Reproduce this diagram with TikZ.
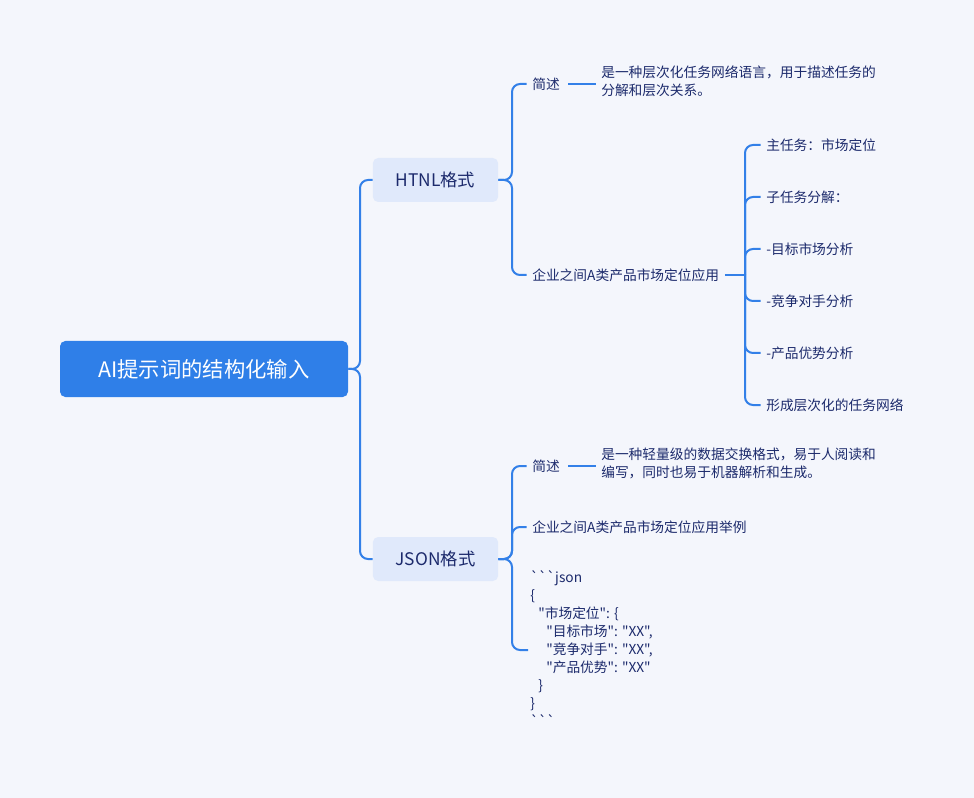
\documentclass[tikz,border=0pt]{standalone}
\usepackage{fontspec}
\setmainfont{Noto Sans CJK SC}
\newfontfamily\codefont{Noto Sans CJK SC}
\usepackage{tikz}

\definecolor{bgcol}{RGB}{244,246,252}
\definecolor{linecol}{RGB}{51,128,232}
\definecolor{rootcol}{RGB}{47,127,232}
\definecolor{subcol}{RGB}{224,233,251}
\definecolor{txtcol}{RGB}{28,42,108}

\tikzset{
  rootbox/.style={fill=rootcol,rounded corners=4pt,minimum width=216pt,minimum height=42pt,text=white,font=\fontsize{16}{18}\selectfont},
  subbox/.style={fill=subcol,rounded corners=4pt,minimum width=94pt,minimum height=33pt,text=txtcol,font=\fontsize{13}{14}\selectfont},
  leaf/.style={anchor=west,inner sep=0pt,text=txtcol,font=\fontsize{10.3}{13.5}\selectfont,align=left},
  conn/.style={draw=linecol,line width=1.5pt,rounded corners=6pt}
}

\begin{document}
\begin{tikzpicture}[x=0.75pt,y=-0.75pt]
\fill[bgcol] (0,0) rectangle (974,798);
\useasboundingbox (0,0) rectangle (974,798);

% Root and format boxes
\node[rootbox] (root) at (204,369) {AI提示词的结构化输入};
\node[subbox] (htnl) at (435.5,180) {HTNL格式};
\node[subbox] (json) at (435.5,559) {JSON格式};

% HTNL leaves
\node[leaf] (hdesc) at (532,84) {简述};
\node[leaf,anchor=north west] (hdesctext) at (601,66) {是一种层次化任务网络语言，用于描述任务的\\分解和层次关系。};
\node[leaf] (happ) at (532,275) {企业之间A类产品市场定位应用};
\node[leaf] (t1) at (766,145) {主任务：市场定位};
\node[leaf] (t2) at (766,197) {子任务分解：};
\node[leaf] (t3) at (766,249) {-目标市场分析};
\node[leaf] (t4) at (766,301) {-竞争对手分析};
\node[leaf] (t5) at (766,353) {-产品优势分析};
\node[leaf] (t6) at (766,405) {形成层次化的任务网络};

% JSON leaves
\node[leaf] (jdesc) at (532,466) {简述};
\node[leaf,anchor=north west] (jdesctext) at (601,448) {是一种轻量级的数据交换格式，易于人阅读和\\编写，同时也易于机器解析和生成。};
\node[leaf] (japp) at (532,527) {企业之间A类产品市场定位应用举例};
\node[leaf,anchor=north west,font=\codefont\fontsize{10.3}{13.5}\selectfont] (jcode) at (530,570) {```json\\
\{\\
\hspace*{6pt}"市场定位": \{\\
\hspace*{12pt}"目标市场": "XX",\\
\hspace*{12pt}"竞争对手": "XX",\\
\hspace*{12pt}"产品优势": "XX"\\
\hspace*{6pt}\}\\
\}\\
```};

% Connectors
\draw[conn] (root.east) -- (360,369) |- (htnl.west);
\draw[conn] (root.east) -- (360,369) |- (json.west);
\draw[conn] (htnl.east) -- (512,180) |- ([xshift=-4pt]hdesc.west);
\draw[conn] (htnl.east) -- (512,180) |- ([xshift=-4pt]happ.west);
\draw[conn] ([xshift=6pt]hdesc.east) -- ([xshift=-4pt]hdesctext.west |- hdesc);
\draw[conn] ([xshift=4pt]happ.east) -- (745,275);
\foreach \t in {t1,t2,t3,t4,t5,t6}
  \draw[conn] (745,275) |- ([xshift=-4pt]\t.west);
\draw[conn] (json.east) -- (512,559) |- ([xshift=-4pt]jdesc.west);
\draw[conn] (json.east) -- (512,559) |- ([xshift=-4pt]japp.west);
\draw[conn] (json.east) -- (512,559) |- (528,650) coordinate (jcodeend);
\draw[conn] ([xshift=6pt]jdesc.east) -- ([xshift=-4pt]jdesctext.west |- jdesc);
\end{tikzpicture}
\end{document}
